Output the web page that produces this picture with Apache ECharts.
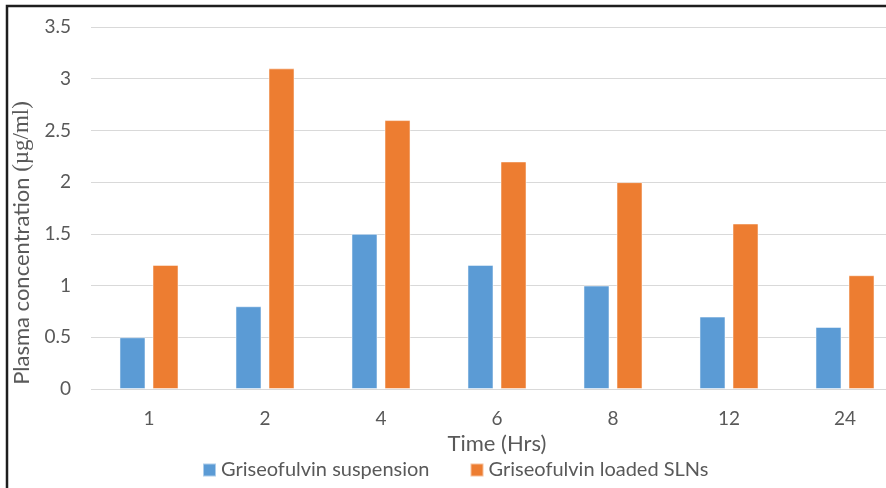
<!DOCTYPE html>
<html>
<head>
<meta charset="utf-8">
<script src="https://cdn.jsdelivr.net/npm/echarts@6/dist/echarts.min.js"></script>
<style>
html,body{margin:0;padding:0;background:#fff;overflow:hidden;width:886px;height:488px;}
#chart{width:930px;height:488px;}
</style>
</head>
<body>
<div id="chart"></div>
<script>
const categories = ['1', '2', '4', '6', '8', '12', '24'];
const suspension = [0.5, 0.8, 1.5, 1.2, 1.0, 0.7, 0.6];
const sln = [1.2, 3.1, 2.6, 2.2, 2.0, 1.6, 1.1];
const seriesNames = ['Griseofulvin suspension', 'Griseofulvin loaded SLNs'];
const xTitle = 'Time (Hrs)';

const FONT = 'Lato';
const chart = echarts.init(document.getElementById('chart'));
chart.setOption({
  animation: false,
  backgroundColor: '#fff',
  grid: { left: 91, top: 27, width: 812, height: 362, containLabel: false },
  legend: {
    data: seriesNames,
    left: 197, top: 455,
    itemWidth: 13, itemHeight: 13, itemGap: 40,
    icon: 'rect',
    textStyle: { fontFamily: FONT, fontSize: 20, color: '#595959' }
  },
  xAxis: {
    type: 'category',
    data: categories,
    name: xTitle,
    nameLocation: 'middle',
    nameGap: 37,
    nameTextStyle: { fontFamily: FONT, fontSize: 22, color: '#595959' },
    axisLine: { show: false },
    axisTick: { show: false },
    axisLabel: { fontFamily: FONT, fontSize: 19, color: '#595959', margin: 20 }
  },
  yAxis: {
    type: 'value',
    min: 0, max: 3.5, interval: 0.5,
    axisLine: { show: false },
    axisTick: { show: false },
    axisLabel: { fontFamily: FONT, fontSize: 19, color: '#595959', margin: 20 },
    splitLine: { lineStyle: { color: '#d9d9d9', width: 1 } }
  },
  graphic: [
    {
      type: 'text',
      x: 22, y: 243,
      rotation: Math.PI / 2,
      style: {
        text: '{a|Plasma concentration }{b|(µg/ml)}',
        align: 'center', verticalAlign: 'middle',
        rich: {
          a: { fontFamily: FONT, fontSize: 22, fill: '#595959' },
          b: { fontFamily: 'Liberation Serif', fontSize: 23, fill: '#595959' }
        }
      }
    },
    {
      type: 'rect',
      shape: { x: 7, y: 6, width: 1200, height: 1200 },
      style: { fill: 'none', stroke: '#1e1e1e', lineWidth: 2.5 },
      silent: true, z: 100
    }
  ],
  series: [
    {
      name: seriesNames[0], type: 'bar', data: suspension,
      barWidth: 26, barGap: '27%',
      itemStyle: { color: '#5B9BD5', borderColor: 'rgba(255,255,255,0.5)', borderWidth: 1 }
    },
    {
      name: seriesNames[1], type: 'bar', data: sln,
      barWidth: 26, barGap: '27%',
      itemStyle: { color: '#ED7D31', borderColor: 'rgba(255,255,255,0.5)', borderWidth: 1 }
    }
  ]
});
</script>
</body>
</html>
